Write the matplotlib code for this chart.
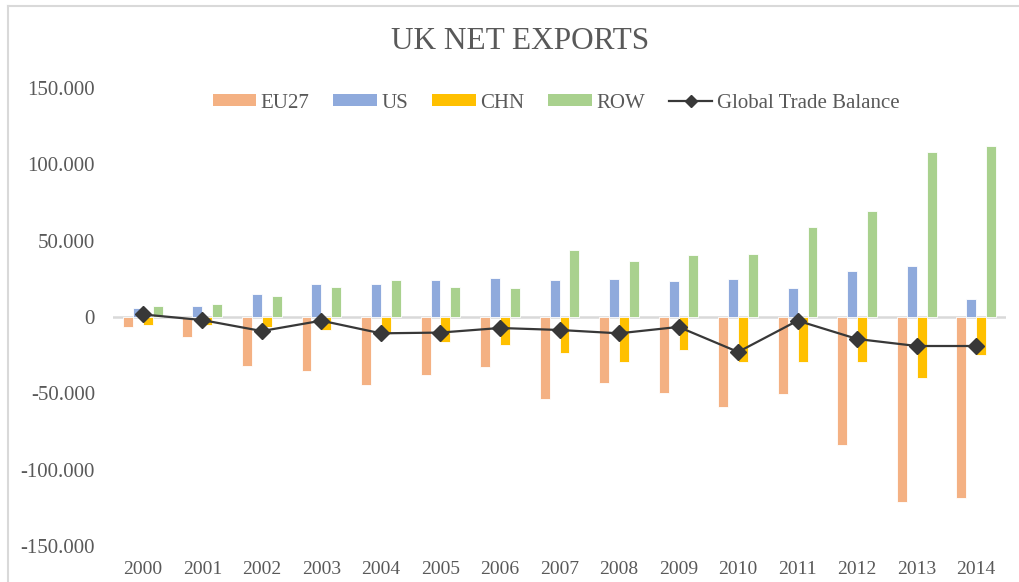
import matplotlib
matplotlib.use("Agg")
import matplotlib.pyplot as plt
import numpy as np
from matplotlib.lines import Line2D
from matplotlib.patches import Patch

years = ["2000", "2001", "2002", "2003", "2004", "2005", "2006", "2007",
         "2008", "2009", "2010", "2011", "2012", "2013", "2014"]
eu27 = [-6.3, -13.0, -32.0, -35.6, -44.3, -38.2, -32.7, -53.9,
        -43.1, -49.8, -59.1, -50.4, -84.0, -121.0, -118.3]
us = [5.8, 7.0, 15.3, 21.4, 21.4, 24.0, 25.3, 24.2,
      24.9, 23.6, 24.9, 19.2, 30.1, 33.6, 11.8]
chn = [-5.0, -5.5, -6.3, -8.5, -11.4, -16.6, -18.6, -23.9,
       -29.4, -21.4, -29.4, -29.4, -29.4, -39.7, -24.7]
row = [7.0, 8.5, 13.8, 19.9, 24.0, 19.9, 19.2, 43.9,
       36.9, 40.4, 41.1, 58.7, 69.4, 108.1, 112.2]
gtb = [1.7, -2.0, -9.2, -2.4, -10.7, -10.2, -7.2, -8.5,
       -10.7, -6.5, -22.9, -2.4, -14.4, -19.0, -19.0]
yticks = [-150, -100, -50, 0, 50, 100, 150]
ytick_labels = ["-150.000", "-100.000", "-50.000", "0", "50.000", "100.000", "150.000"]

series_names = ["EU27", "US", "CHN", "ROW"]
series_colors = ["#F4B183", "#8FAADC", "#FFC000", "#A9D18E"]
line_color = "#383838"
text_color = "#595959"

plt.rcParams["font.family"] = ["Liberation Serif", "DejaVu Serif"]

W, H = 1019, 582
fig = plt.figure(figsize=(W / 100, H / 100), dpi=100)
ax = fig.add_axes([113 / W, 1 - 546 / H, (1006 - 113) / W, (546 - 88) / H])

x = np.arange(len(years))
bw = 1 / 6
data = [eu27, us, chn, row]
ax.axhline(0, color="#D9D9D9", lw=1.8, zorder=1)
for i, (vals, col) in enumerate(zip(data, series_colors)):
    ax.bar(x + (i - 1.5) * bw, vals, width=bw, color=col,
           edgecolor="white", linewidth=0.6, zorder=2)
ax.plot(x, gtb, color=line_color, lw=1.6, marker="D", ms=8.5,
        markerfacecolor=line_color, markeredgecolor=line_color, zorder=3)

ax.set_xlim(-0.5, len(years) - 0.5)
ax.set_ylim(-150, 150)
ax.set_yticks(yticks)
ax.set_yticklabels(ytick_labels)
ax.set_xticks([])
for s in ax.spines.values():
    s.set_visible(False)
ax.tick_params(axis="y", length=0, pad=13, labelsize=15, labelcolor=text_color)

for xi, lab in zip(x, years):
    ax.annotate(lab, xy=(xi, 0), xycoords=("data", "figure fraction"),
                xytext=(0, 1 - 570 / H), textcoords=("offset points", "figure fraction"),
                ha="center", va="center", fontsize=14, color=text_color)

fig.text(520 / W, 1 - 41.5 / H, "UK NET EXPORTS", ha="center", va="center",
         fontsize=22.5, color=text_color)

handles = [Patch(facecolor=c, edgecolor="none") for c in series_colors]
handles.append(Line2D([0], [0], color=line_color, lw=1.6, marker="D", ms=6,
                      markerfacecolor=line_color, markeredgecolor=line_color))
labels = series_names + ["Global Trade Balance"]
leg = fig.legend(handles, labels, loc="center", ncol=5,
                 bbox_to_anchor=(556 / W, 1 - 103 / H), frameon=False,
                 fontsize=15, handlelength=2.1, handleheight=0.5,
                 handletextpad=0.2, columnspacing=1.15, labelcolor=text_color)

# chart border (top and left visible)
fig.add_artist(Line2D([8 / W, 1.01], [1 - 6 / H, 1 - 6 / H], color="#D9D9D9", lw=1.5,
                      transform=fig.transFigure))
fig.add_artist(Line2D([8 / W, 8 / W], [-0.01, 1 - 6 / H], color="#D9D9D9", lw=1.5,
                      transform=fig.transFigure))

fig.savefig("out.png", dpi=100)
